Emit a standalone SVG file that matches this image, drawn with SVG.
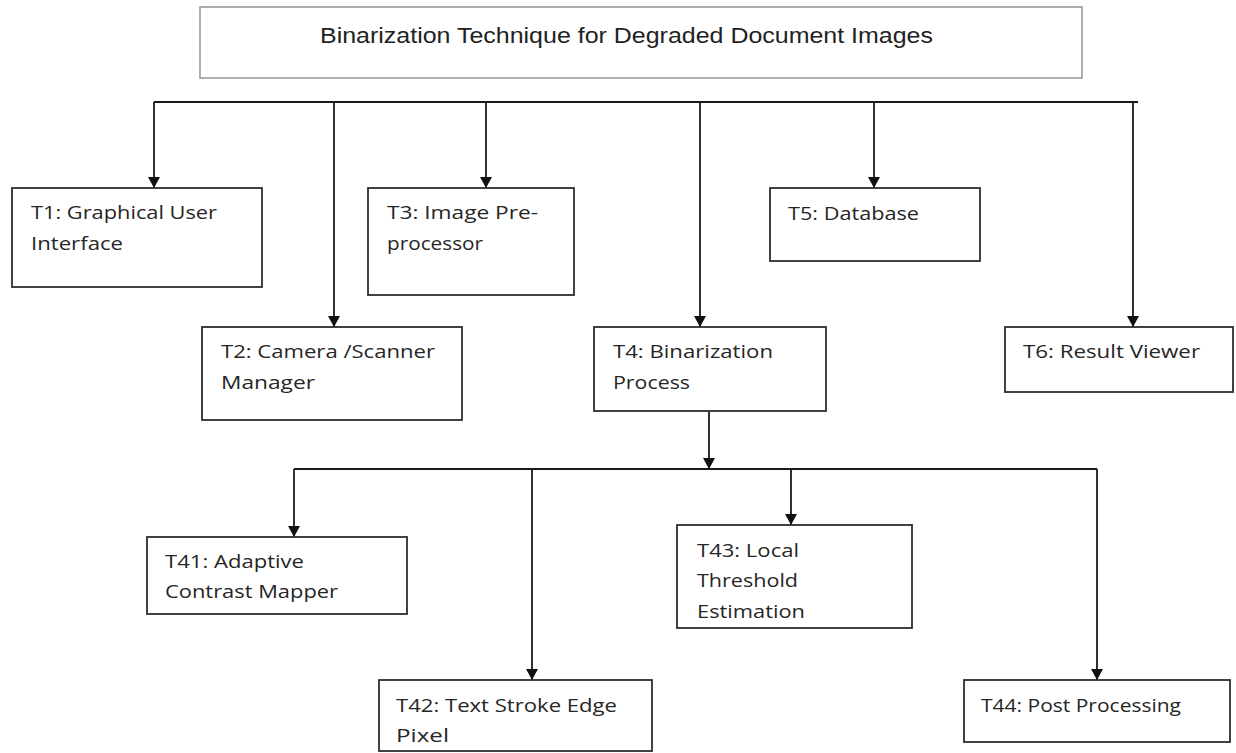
<svg xmlns="http://www.w3.org/2000/svg" width="1236" height="753" viewBox="0 0 1236 753">
<defs>
<marker id="arr" markerUnits="userSpaceOnUse" markerWidth="12" markerHeight="12" refX="11" refY="6" orient="auto">
<path d="M0,0 L11,6 L0,12 z" fill="#111"/>
</marker>
<style>
.box{fill:#fff;stroke:#2e2e2e;stroke-width:1.8}
.tbox{fill:#fff;stroke:#9a9a9a;stroke-width:1.6}
.lbl{font-family:"Open Sans","Noto Sans",sans-serif;font-size:19px;fill:#262626}
.ttl{font-family:"Liberation Sans",Arial,sans-serif;font-size:22px;fill:#222}
.c{fill:none;stroke:#1a1a1a;stroke-width:1.8}
.a{marker-end:url(#arr)}
</style>
</defs>
<rect width="1236" height="753" fill="#fff"/>
<g id="connectors">
<path class="c" d="M154,102 H1138"/>
<path class="c a" d="M154,102 V188"/>
<path class="c a" d="M334,102 V327"/>
<path class="c a" d="M486,102 V188"/>
<path class="c a" d="M700,102 V327"/>
<path class="c a" d="M874,102 V188"/>
<path class="c a" d="M1133,102 V327"/>
<path class="c a" d="M709,411 V469"/>
<path class="c" d="M294,469 H1097"/>
<path class="c a" d="M294,469 V537"/>
<path class="c a" d="M532,469 V680"/>
<path class="c a" d="M791,469 V525"/>
<path class="c a" d="M1097,469 V680"/>
</g>
<g id="title">
<rect class="tbox" x="200" y="7" width="882" height="71"/>
<text class="ttl" x="320" y="43" textLength="613" lengthAdjust="spacingAndGlyphs">Binarization Technique for Degraded Document Images</text>
</g>
<g id="T1">
<rect class="box" x="12" y="188" width="250" height="99"/>
<text class="lbl" x="31" y="219" textLength="186" lengthAdjust="spacingAndGlyphs">T1: Graphical User</text>
<text class="lbl" x="31" y="250" textLength="92" lengthAdjust="spacingAndGlyphs">Interface</text>
</g>
<g id="T2">
<rect class="box" x="202" y="327" width="260" height="93"/>
<text class="lbl" x="221" y="358" textLength="214" lengthAdjust="spacingAndGlyphs">T2: Camera /Scanner</text>
<text class="lbl" x="221" y="389" textLength="94" lengthAdjust="spacingAndGlyphs">Manager</text>
</g>
<g id="T3">
<rect class="box" x="368" y="188" width="206" height="107"/>
<text class="lbl" x="387" y="219" textLength="151" lengthAdjust="spacingAndGlyphs">T3: Image Pre-</text>
<text class="lbl" x="387" y="250" textLength="96" lengthAdjust="spacingAndGlyphs">processor</text>
</g>
<g id="T4">
<rect class="box" x="594" y="327" width="232" height="84"/>
<text class="lbl" x="613" y="358" textLength="160" lengthAdjust="spacingAndGlyphs">T4: Binarization</text>
<text class="lbl" x="613" y="389" textLength="77" lengthAdjust="spacingAndGlyphs">Process</text>
</g>
<g id="T5">
<rect class="box" x="770" y="188" width="210" height="73"/>
<text class="lbl" x="788" y="220" textLength="131" lengthAdjust="spacingAndGlyphs">T5: Database</text>
</g>
<g id="T6">
<rect class="box" x="1005" y="327" width="228" height="65"/>
<text class="lbl" x="1023" y="358" textLength="177" lengthAdjust="spacingAndGlyphs">T6: Result Viewer</text>
</g>
<g id="T41">
<rect class="box" x="147" y="537" width="260" height="77"/>
<text class="lbl" x="165" y="568" textLength="139" lengthAdjust="spacingAndGlyphs">T41: Adaptive</text>
<text class="lbl" x="165" y="598" textLength="173" lengthAdjust="spacingAndGlyphs">Contrast Mapper</text>
</g>
<g id="T42">
<rect class="box" x="379" y="680" width="273" height="71"/>
<text class="lbl" x="396" y="712" textLength="221" lengthAdjust="spacingAndGlyphs">T42: Text Stroke Edge</text>
<text class="lbl" x="396" y="742" textLength="53" lengthAdjust="spacingAndGlyphs">Pixel</text>
</g>
<g id="T43">
<rect class="box" x="677" y="525" width="235" height="103"/>
<text class="lbl" x="697" y="557" textLength="102" lengthAdjust="spacingAndGlyphs">T43: Local</text>
<text class="lbl" x="697" y="587" textLength="101" lengthAdjust="spacingAndGlyphs">Threshold</text>
<text class="lbl" x="697" y="618" textLength="108" lengthAdjust="spacingAndGlyphs">Estimation</text>
</g>
<g id="T44">
<rect class="box" x="964" y="680" width="266" height="62"/>
<text class="lbl" x="981" y="712" textLength="200" lengthAdjust="spacingAndGlyphs">T44: Post Processing</text>
</g>
</svg>
